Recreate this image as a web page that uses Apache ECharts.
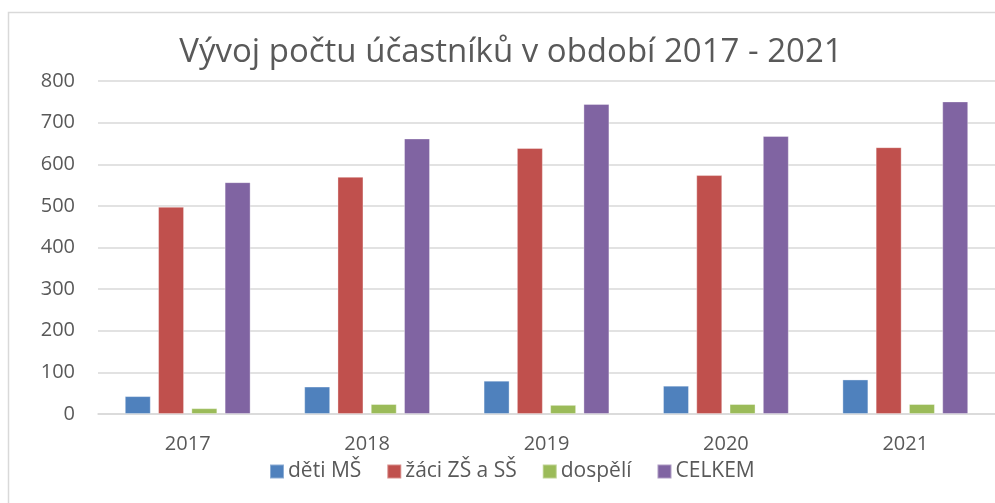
<!DOCTYPE html>
<html>
<head>
<meta charset="utf-8">
<script src="https://cdn.jsdelivr.net/npm/echarts@6/dist/echarts.min.js"></script>
<style>
  html, body { margin: 0; padding: 0; background: #fff; }
  #chart { width: 995px; height: 503px; }
</style>
</head>
<body>
<div id="chart"></div>
<script>
// roky
const years = ['2017', '2018', '2019', '2020', '2021'];
// hodnoty
const detiMS = [43, 66, 80, 68, 83];
const zaciZSSS = [498, 570, 639, 574, 641];
const dospeli = [14, 24, 22, 24, 24];
const celkem = [557, 662, 745, 668, 751];

const seriesNames = ['děti MŠ', 'žáci ZŠ a SŠ', 'dospělí', 'CELKEM'];
const seriesColors = ['#4f81bd', '#c0504d', '#9bbb59', '#8064a2'];
const seriesData = [detiMS, zaciZSSS, dospeli, celkem];

const font = '"Open Sans", "Noto Sans", sans-serif';
const chart = echarts.init(document.getElementById('chart'));

const option = {
  animation: false,
  title: {
    text: 'Vývoj počtu účastníků v období 2017 - 2021',
    left: 506,
    textAlign: 'center',
    top: 31,
    textStyle: {
      fontFamily: font,
      fontSize: 33,
      fontWeight: 'normal',
      color: '#595959'
    }
  },
  // rámeček grafu
  graphic: [{
    type: 'rect',
    left: 6,
    top: 10,
    shape: { width: 1100, height: 600 },
    style: { fill: 'none', stroke: '#d9d9d9', lineWidth: 1.5 },
    silent: true,
    z: -1
  }],
  legend: {
    data: seriesNames,
    left: 264,
    top: 456,
    itemWidth: 14,
    itemHeight: 14,
    itemGap: 25,
    icon: 'rect',
    textStyle: {
      fontFamily: font,
      fontSize: 21,
      color: '#595959',
      padding: [0, 0, 0, -1]
    }
  },
  grid: {
    left: 98,
    top: 81,
    width: 907,
    height: 333,
    containLabel: false
  },
  xAxis: {
    type: 'category',
    data: years,
    axisTick: { show: false },
    axisLine: { lineStyle: { color: '#d9d9d9', width: 1.5 } },
    axisLabel: {
      fontFamily: font,
      fontSize: 20,
      color: '#595959',
      margin: 20
    }
  },
  yAxis: {
    type: 'value',
    min: 0,
    max: 800,
    interval: 100,
    axisLine: { show: false },
    axisTick: { show: false },
    splitLine: { lineStyle: { color: '#d9d9d9', width: 1.5 } },
    axisLabel: {
      fontFamily: font,
      fontSize: 20,
      color: '#595959',
      margin: 23
    }
  },
  series: seriesNames.map((name, i) => ({
    name: name,
    type: 'bar',
    data: seriesData[i],
    barWidth: 26,
    barGap: '28%',
    itemStyle: {
      color: seriesColors[i],
      borderColor: 'rgba(255,255,255,0.35)',
      borderWidth: 1
    }
  }))
};

chart.setOption(option);
</script>
</body>
</html>
